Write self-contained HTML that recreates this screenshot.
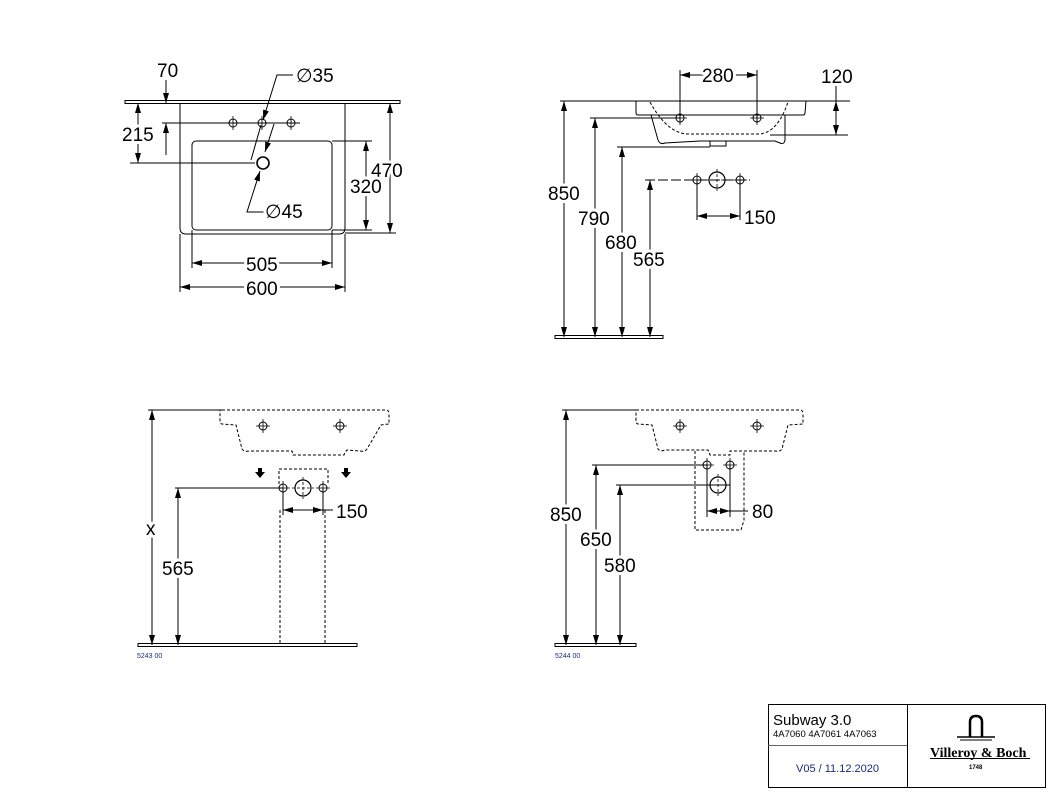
<!DOCTYPE html>
<html><head><meta charset="utf-8"><style>
html,body{margin:0;padding:0;background:#fff;}
svg{display:block;}
text{font-family:"Liberation Sans","DejaVu Sans",sans-serif;fill:#000;}
.n{font-size:19px;stroke:#fff;stroke-width:6px;paint-order:stroke;stroke-linejoin:round;}
</style></head><body>
<svg width="1058" height="797" viewBox="0 0 1058 797" xmlns="http://www.w3.org/2000/svg">
<defs>
<marker id="a" viewBox="0 0 10 10" refX="10" refY="5" markerWidth="10" markerHeight="10" markerUnits="userSpaceOnUse" orient="auto-start-reverse"><path d="M0,2 L10,5 L0,8 z" fill="#000"/></marker>
<g id="hole"><circle r="4" fill="none" stroke="#000" stroke-width="1"/><path d="M-7,0H7M0,-7V7" stroke="#000" stroke-width="0.8"/></g>
<g id="big"><circle r="8" fill="none" stroke="#000" stroke-width="1.2"/><path d="M-11,0H11M0,-11V11" stroke="#000" stroke-width="0.8" stroke-dasharray="3,2"/></g>
</defs>
<g stroke="#000" stroke-width="1" fill="none">
<!-- TOP LEFT -->
<rect x="125" y="100.5" width="275" height="3"/>
<path d="M180,103 V228 Q180,234 186,234 H339 Q345,234 345,228 V103"/>
<rect x="192" y="141" width="140" height="89" rx="4"/>
<path d="M166,80 V103" marker-end="url(#a)"/>
<path d="M166,155 V123" marker-end="url(#a)"/>
<path d="M162,123 H300" />
<path d="M138,103 V163" marker-start="url(#a)" marker-end="url(#a)"/>
<path d="M130,163 H255"/>
<path d="M390,103 V233" marker-start="url(#a)" marker-end="url(#a)"/>
<path d="M345,233 H396"/>
<path d="M366,141 V230" marker-start="url(#a)" marker-end="url(#a)"/>
<path d="M332,141 H372 M332,230 H372"/>
<path d="M192,230 V268 M332,230 V268"/>
<path d="M192,263 H332" marker-start="url(#a)" marker-end="url(#a)"/>
<path d="M180,234 V292 M345,234 V292"/>
<path d="M180,287 H345" marker-start="url(#a)" marker-end="url(#a)"/>
<path d="M293,75 H277 L263,120" marker-end="url(#a)"/>
<path d="M261,125 L251,160"/>
<path d="M265,212 H247 L260,171" marker-end="url(#a)"/>
<path d="M274,124 L265,152" marker-end="url(#a)"/>
<circle cx="263" cy="163" r="6" stroke-width="1.6"/>
</g>
<use href="#hole" x="233" y="123"/><use href="#hole" x="262" y="123"/><use href="#hole" x="291" y="123"/>
<text class="n" x="157" y="77">70</text>
<text class="n" x="122" y="141">215</text>
<text class="n" x="296" y="82">∅35</text>
<text class="n" x="265" y="218">∅45</text>
<text class="n" x="371" y="177">470</text>
<text class="n" x="350" y="193">320</text>
<text class="n" x="246" y="271">505</text>
<text class="n" x="246" y="295">600</text>

<!-- TOP RIGHT -->
<g stroke="#000" stroke-width="1" fill="none">
<path d="M560,101 H850"/>
<path d="M636,101 H806 L805,113 Q805,115 803,115 H638 Q636,115 636,113 Z" fill="#fff"/>
<path d="M651,115 L658,140 Q660,145 665,143 L700,141 H775 L780,143 Q784,145 785,140 L785,115"/>
<rect x="710" y="141" width="16" height="5"/>
<path d="M650,102 Q668,135 690,134 H760 Q778,132 788,102" stroke-dasharray="3,2"/>
<path d="M680,70 V123 M757,70 V123"/>
<path d="M680,75 H757" marker-start="url(#a)" marker-end="url(#a)"/>
<path d="M836,86 V101" />
<path d="M836,101 V135" marker-start="url(#a)" marker-end="url(#a)"/>
<path d="M770,135 H848 M806,101 H848"/>
<path d="M564,101 V337" marker-start="url(#a)" marker-end="url(#a)"/>
<path d="M590,118 H680"/>
<path d="M595,118 V337" marker-start="url(#a)" marker-end="url(#a)"/>
<path d="M617,147 H710"/>
<path d="M622,147 V337" marker-start="url(#a)" marker-end="url(#a)"/>
<path d="M645,180 H750" stroke-dasharray="10,3"/>
<path d="M650,180 V337" marker-start="url(#a)" marker-end="url(#a)"/>
<path d="M697,180 V220 M740,180 V220"/>
<path d="M697,216 H740" marker-start="url(#a)" marker-end="url(#a)"/>
<rect x="555" y="335.5" width="108" height="3"/>
</g>
<use href="#hole" x="680" y="118"/><use href="#hole" x="757" y="118"/>
<use href="#hole" x="697" y="180"/><use href="#big" x="717" y="180"/><use href="#hole" x="740" y="180"/>
<text class="n" x="702" y="82">280</text>
<text class="n" x="821" y="83">120</text>
<text class="n" x="548" y="200">850</text>
<text class="n" x="578" y="225">790</text>
<text class="n" x="605" y="249">680</text>
<text class="n" x="633" y="266">565</text>
<text class="n" x="744" y="224">150</text>

<!-- BOTTOM LEFT -->
<g stroke="#000" stroke-width="1" fill="none">
<path d="M148,410 H222"/>
<path d="M152,410 V645" marker-start="url(#a)" marker-end="url(#a)"/>
<g stroke-dasharray="3,2">
<path d="M222,410 H386 Q389,410 389,414 V424 L381,425 L367,449 Q365,452 360,451 L347,450 Q345,452 344,455 H293 L292,451 H250 Q244,452 242,449 L236,425 L222,424 Q220,424 220,420 V410"/>
<path d="M279,484 V469 H328 V484"/>
<path d="M280,510 V645 M325,510 V645"/>
</g>
<path d="M175,488 H283"/>
<path d="M178,488 V645" marker-start="url(#a)" marker-end="url(#a)"/>
<path d="M283,488 V515 M323,488 V515"/>
<path d="M283,510 H323" marker-start="url(#a)" marker-end="url(#a)"/>
<path d="M323,510 H333"/>
<rect x="138" y="643.5" width="219" height="3"/>
</g>
<path d="M258,468 h4 v4 h3 l-5,6 l-5,-6 h3 z" fill="#000"/>
<path d="M344,468 h4 v4 h3 l-5,6 l-5,-6 h3 z" fill="#000"/>
<use href="#hole" x="263" y="426"/><use href="#hole" x="340" y="426"/>
<use href="#hole" x="283" y="488"/><use href="#big" x="303" y="488"/><use href="#hole" x="323" y="488"/>
<text class="n" x="146" y="535">x</text>
<text class="n" x="162" y="575">565</text>
<text class="n" x="336" y="518">150</text>
<text x="137" y="658" font-size="7" style="fill:#1a2a80">5243 00</text>

<!-- BOTTOM RIGHT -->
<g stroke="#000" stroke-width="1" fill="none">
<path d="M562,410 H636"/>
<path d="M566,410 V645" marker-start="url(#a)" marker-end="url(#a)"/>
<g stroke-dasharray="3,2">
<path d="M636,410 H800 Q803,410 803,414 V424 L788,425 L782,449 Q780,452 775,451 L730,451 V455 H710 L708,450 H665 Q660,452 658,449 L652,425 L638,424 Q636,424 636,420 V410"/>
<path d="M695,451 V530 H741 L744,520 V451"/>
</g>
<path d="M592,465 H708"/>
<path d="M596,465 V645" marker-start="url(#a)" marker-end="url(#a)"/>
<path d="M616,485 H730"/>
<path d="M620,485 V645" marker-start="url(#a)" marker-end="url(#a)"/>
<path d="M707,465 V517 M730,465 V517"/>
<path d="M707,511 H730" marker-start="url(#a)" marker-end="url(#a)"/>
<path d="M730,511 H748"/>
<rect x="555" y="643.5" width="81" height="3"/>
</g>
<use href="#hole" x="680" y="426"/><use href="#hole" x="757" y="426"/>
<use href="#hole" x="707" y="465"/><use href="#hole" x="730" y="465"/><use href="#big" x="718" y="485"/>
<text class="n" x="550" y="521">850</text>
<text class="n" x="580" y="546">650</text>
<text class="n" x="604" y="572">580</text>
<text class="n" x="752" y="518">80</text>
<text x="555" y="658" font-size="7" style="fill:#1a2a80">5244 00</text>

<!-- TITLE BLOCK -->
<g stroke="#000" fill="none">
<rect x="768.5" y="704.5" width="277" height="83"/>
<path d="M907.5,704 V788"/>
<path d="M768,745.5 H907" stroke="#666"/>
</g>
<text x="773" y="725" font-size="15">Subway 3.0</text>
<text x="773" y="737" font-size="9.5">4A7060 4A7061 4A7063</text>
<text x="796" y="772" font-size="11" style="fill:#1a2a80">V05 / 11.12.2020</text>
<g stroke="#000" fill="none">
<path d="M970,737 V722 Q970,716 976,716 Q982,716 982,722 V737" stroke-width="2.5"/>
<path d="M957,737 H995" stroke-width="1.5"/>
<path d="M960,740 H992" stroke-width="1"/>
<path d="M930,758.5 H1030" stroke-width="1"/>
</g>
<text x="930" y="757" font-size="14" style="font-family:'Liberation Serif',serif;font-weight:bold">Villeroy &amp; Boch</text>
<text x="969" y="769" font-size="6" font-weight="bold">1748</text>
</svg>
</body></html>
